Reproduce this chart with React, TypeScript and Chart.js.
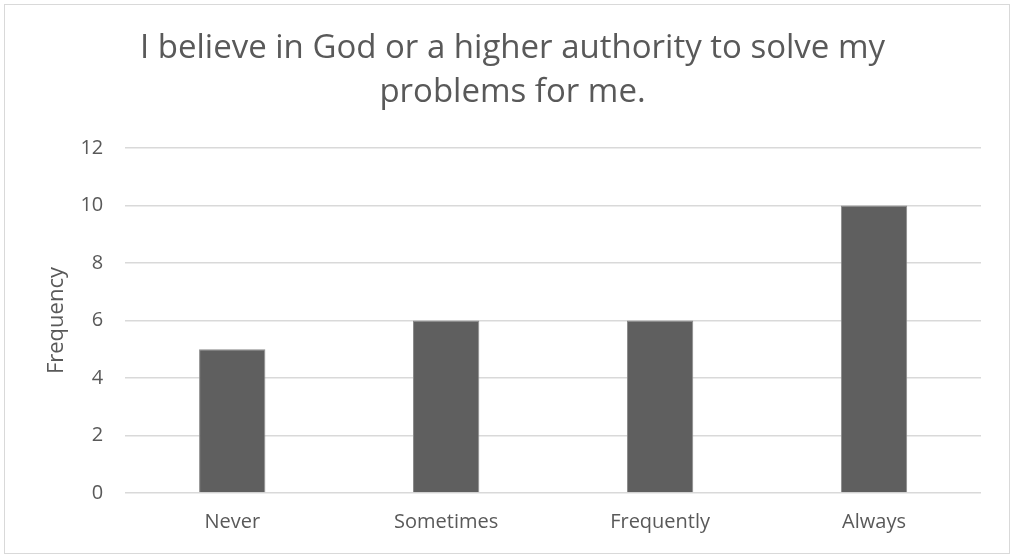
import React, { useEffect, useRef } from "react";
import { Chart, registerables } from "chart.js";

Chart.register(...registerables);

const categories = ["Never", "Sometimes", "Frequently", "Always"];
const frequencies = [5, 6, 6, 10];
const yTicks = [0, 2, 4, 6, 8, 10, 12];
const titleLines = ["I believe in God or a higher authority to solve my", "problems for me."];
const yAxisTitle = "Frequency";

const FONT = "'Open Sans', 'Noto Sans', sans-serif";
const TEXT = "#595959";

export default function App() {
  const canvasRef = useRef<HTMLCanvasElement | null>(null);

  useEffect(() => {
    if (!canvasRef.current) return;
    const chart = new Chart(canvasRef.current, {
      type: "bar",
      data: {
        labels: categories,
        datasets: [
          {
            data: frequencies,
            backgroundColor: "#5f5f5f",
            borderColor: "#8a8a8a",
            borderWidth: 1,
            categoryPercentage: 1,
            barPercentage: 0.31,
          },
        ],
      },
      options: {
        responsive: false,
        animation: false,
        layout: { padding: { left: 44, right: 32, top: 27, bottom: 5 } },
        plugins: {
          legend: { display: false },
          tooltip: { enabled: false },
          title: {
            display: true,
            text: titleLines,
            color: TEXT,
            font: { family: FONT, size: 33, weight: "normal", lineHeight: 1.32 },
            padding: { top: 0, bottom: 34 },
          },
        },
        scales: {
          x: {
            grid: { display: false, drawTicks: false },
            border: { display: false },
            ticks: { color: TEXT, font: { family: FONT, size: 20 }, padding: 17 },
          },
          y: {
            min: 0,
            max: 12,
            afterBuildTicks: (axis: any) => {
              axis.ticks = yTicks.map((v) => ({ value: v }));
            },
            grid: { color: "#d9d9d9", lineWidth: 1.5, drawTicks: false },
            border: { display: false },
            ticks: { color: TEXT, font: { family: FONT, size: 20 }, padding: 22 },
            title: {
              display: true,
              text: yAxisTitle,
              color: TEXT,
              font: { family: FONT, size: 22 },
              padding: { top: 0, bottom: -12 },
            },
          },
        },
      },
    });
    return () => chart.destroy();
  }, []);

  return (
    <div>
      <canvas
        ref={canvasRef}
        width={1013}
        height={556}
        style={{ position: "fixed", left: 0, top: 0, width: 1013, height: 556 }}
      />
      <div
        style={{
          position: "fixed",
          left: 4,
          top: 4,
          width: 1004,
          height: 548,
          border: "1.5px solid #d9d9d9",
          pointerEvents: "none",
        }}
      />
    </div>
  );
}
